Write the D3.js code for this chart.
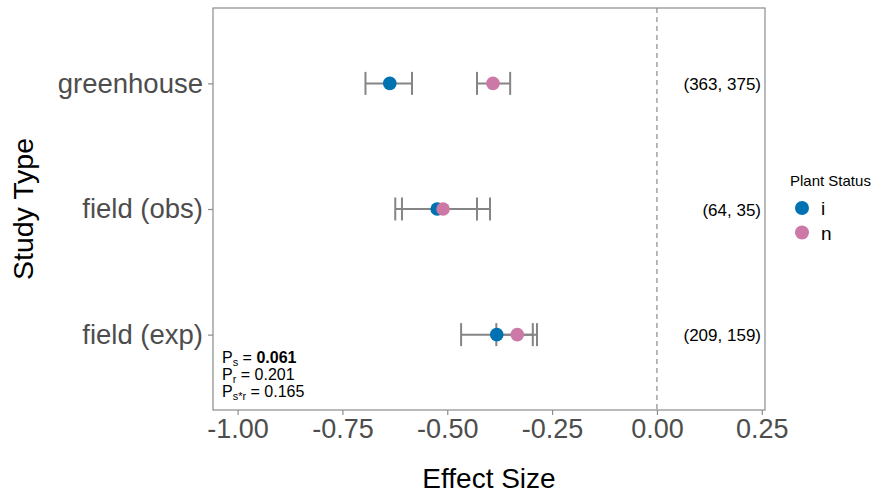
<!DOCTYPE html>
<html>
<head>
<meta charset="utf-8">
<script src="https://cdn.jsdelivr.net/npm/d3@7"></script>
<style>
  html, body { margin: 0; padding: 0; background: #fff; }
  svg { display: block; font-family: "Liberation Sans", Arial, sans-serif; }
</style>
</head>
<body>
<svg id="chart" width="876" height="495"></svg>
<script>
// Study types, top to bottom
const studyTypes = ["greenhouse", "field (obs)", "field (exp)"];
// Plant status groups
const statuses = ["i", "n"];
const statusColors = ["#0072B2", "#CC79A7"];
// Mean effect sizes per study type (order matches studyTypes)
const meanI = [-0.637, -0.524, -0.382];
const meanN = [-0.391, -0.510, -0.333];
// Confidence limits
const lowI = [-0.695, -0.624, -0.467];
const highI = [-0.584, -0.429, -0.296];
const lowN = [-0.429, -0.608, -0.383];
const highN = [-0.350, -0.398, -0.286];
// Sample sizes (i, n)
const sampleLabels = ["(363, 375)", "(64, 35)", "(209, 159)"];
// Axis ticks
const xTicks = [-1.00, -0.75, -0.50, -0.25, 0.00, 0.25];

const svg = d3.select("#chart");
const panel = { left: 213, right: 765, top: 8, bottom: 410 };

const x = d3.scaleLinear().domain([-1.0586, 0.2577]).range([panel.left, panel.right]);
const y = d3.scalePoint().domain(studyTypes).range([panel.top, panel.bottom]).padding(0.6);

const rows = [];
studyTypes.forEach((s, k) => {
  rows.push({ type: s, status: "i", mean: meanI[k], lo: lowI[k], hi: highI[k] });
  rows.push({ type: s, status: "n", mean: meanN[k], lo: lowN[k], hi: highN[k] });
});
const color = d3.scaleOrdinal().domain(statuses).range(statusColors);

// Reference line at zero
svg.append("line")
  .attr("x1", x(0)).attr("x2", x(0))
  .attr("y1", panel.top).attr("y2", panel.bottom)
  .attr("stroke", "#8c8c8c").attr("stroke-width", 1.2)
  .attr("stroke-dasharray", "5,4");

// Error bars
const capHalf = 11.5;
const eb = svg.append("g").attr("stroke", "#858585").attr("stroke-width", 2).attr("fill", "none");
rows.forEach(d => {
  const yy = y(d.type);
  eb.append("line").attr("x1", x(d.lo)).attr("x2", x(d.hi)).attr("y1", yy).attr("y2", yy);
  eb.append("line").attr("x1", x(d.lo)).attr("x2", x(d.lo)).attr("y1", yy - capHalf).attr("y2", yy + capHalf);
  eb.append("line").attr("x1", x(d.hi)).attr("x2", x(d.hi)).attr("y1", yy - capHalf).attr("y2", yy + capHalf);
});

// Points
svg.append("g").selectAll("circle").data(rows).join("circle")
  .attr("cx", d => x(d.mean))
  .attr("cy", d => y(d.type))
  .attr("r", 6.8)
  .attr("fill", d => color(d.status));

// Sample size labels
svg.append("g").selectAll("text").data(studyTypes).join("text")
  .attr("x", 761)
  .attr("y", d => y(d) + 6.5)
  .attr("text-anchor", "end")
  .attr("font-size", 17)
  .attr("fill", "#000")
  .text((d, i) => sampleLabels[i]);

// P-value annotation
const pLines = [
  { sub: "s", val: "0.061", bold: true },
  { sub: "r", val: "0.201", bold: false },
  { sub: "s*r", val: "0.165", bold: false }
];
const pg = svg.append("g").attr("font-size", 16).attr("fill", "#000");
pLines.forEach((p, i) => {
  const t = pg.append("text").attr("x", 222).attr("y", 363 + i * 17);
  t.append("tspan").text("P");
  t.append("tspan").attr("font-size", 11).attr("dy", 3).text(p.sub);
  t.append("tspan").attr("dy", -3).text(" = ");
  t.append("tspan").attr("font-weight", p.bold ? "bold" : "normal").text(p.val);
});

// Panel border
svg.append("rect")
  .attr("x", panel.left).attr("y", panel.top)
  .attr("width", panel.right - panel.left).attr("height", panel.bottom - panel.top)
  .attr("fill", "none").attr("stroke", "#8c8c8c").attr("stroke-width", 1.2);

// X axis
const xAxis = svg.append("g")
  .attr("transform", `translate(0,${panel.bottom})`)
  .call(d3.axisBottom(x).tickValues(xTicks).tickSize(5).tickPadding(4));
xAxis.select(".domain").remove();
xAxis.selectAll("line").attr("stroke", "#8c8c8c").attr("stroke-width", 1.2);
xAxis.selectAll("text").attr("font-size", 27).attr("fill", "#4d4d4d")
  .attr("font-family", "Liberation Sans, Arial, sans-serif")
  .text(d => d3.format(".2f")(d).replace("\u2212", "-"));

// Y axis
const yAxis = svg.append("g")
  .attr("transform", `translate(${panel.left},0)`)
  .call(d3.axisLeft(y).tickSize(5).tickPadding(5));
yAxis.select(".domain").remove();
yAxis.selectAll("line").attr("stroke", "#8c8c8c").attr("stroke-width", 1.2);
yAxis.selectAll("text").attr("font-size", 27.5).attr("fill", "#4d4d4d")
  .attr("font-family", "Liberation Sans, Arial, sans-serif");

// Axis titles
svg.append("text")
  .attr("x", x.range()[0] + (x.range()[1] - x.range()[0]) / 2)
  .attr("y", 488)
  .attr("text-anchor", "middle")
  .attr("font-size", 28)
  .attr("fill", "#000")
  .text("Effect Size");
svg.append("text")
  .attr("transform", `translate(33,${(panel.top + panel.bottom) / 2}) rotate(-90)`)
  .attr("text-anchor", "middle")
  .attr("font-size", 28.5)
  .attr("fill", "#000")
  .text("Study Type");

// Legend
const lg = svg.append("g").attr("transform", "translate(790,0)");
lg.append("text").attr("x", 0).attr("y", 186).attr("font-size", 15).attr("fill", "#000").text("Plant Status");
statuses.forEach((s, i) => {
  const yy = 208 + i * 24.5;
  lg.append("circle").attr("cx", 12).attr("cy", yy).attr("r", 7).attr("fill", color(s));
  lg.append("text").attr("x", 31).attr("y", yy + 7).attr("font-size", 19).attr("fill", "#000").text(s);
});
</script>
</body>
</html>
